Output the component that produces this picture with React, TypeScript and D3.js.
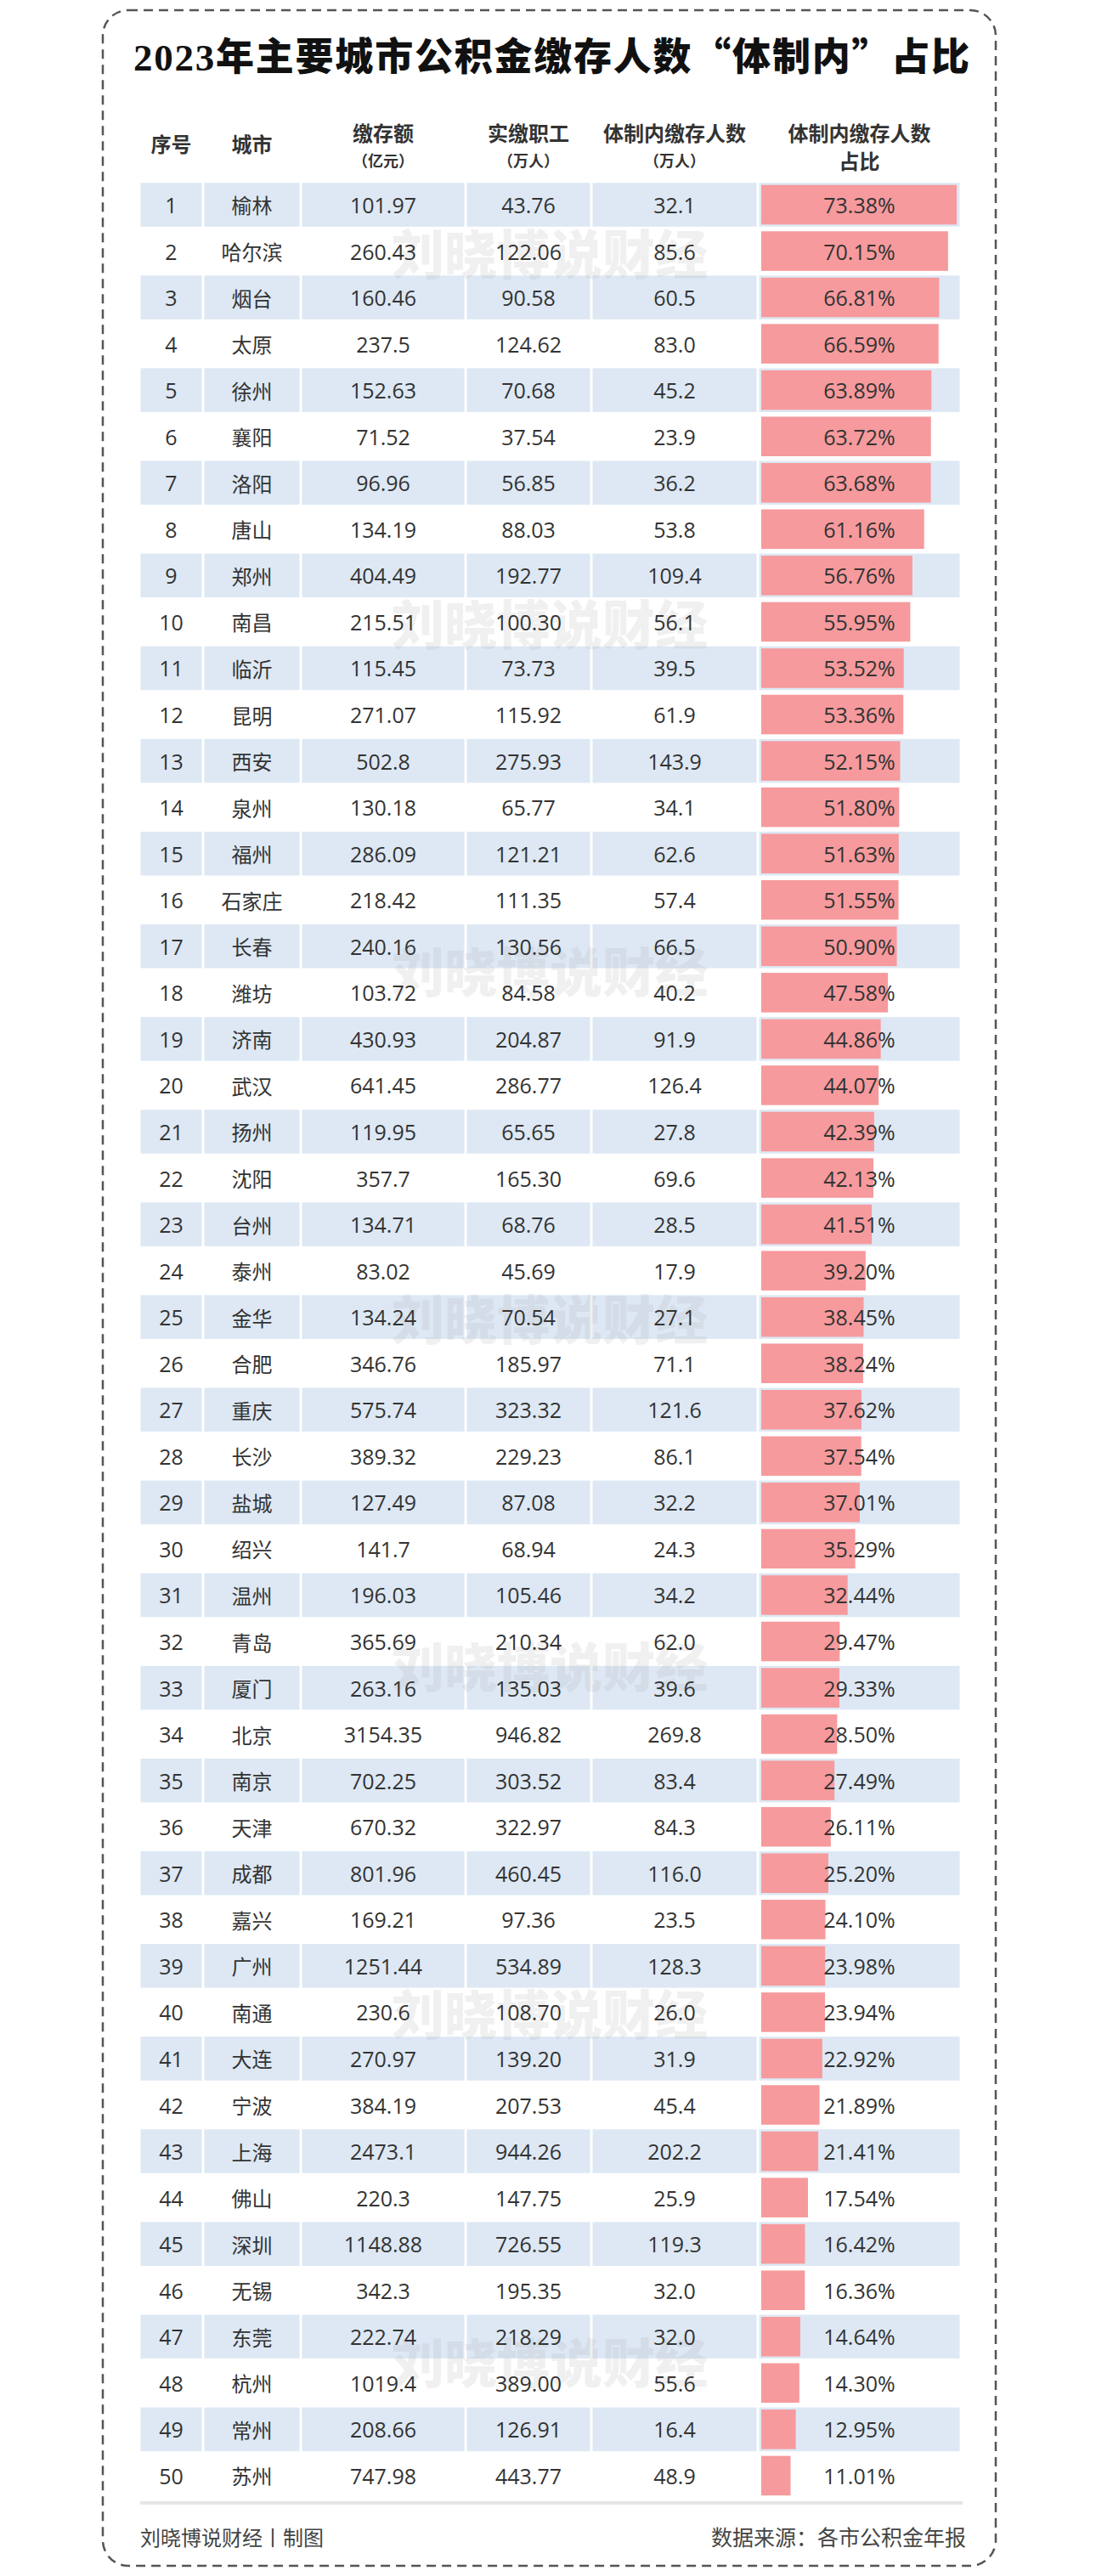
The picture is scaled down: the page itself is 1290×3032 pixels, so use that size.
import * as d3 from "d3";
import React from "react";

// table rows, in rank order
const cities = [
  "榆林", "哈尔滨", "烟台", "太原", "徐州", "襄阳", "洛阳", "唐山", "郑州", "南昌",
  "临沂", "昆明", "西安", "泉州", "福州", "石家庄", "长春", "潍坊", "济南", "武汉",
  "扬州", "沈阳", "台州", "泰州", "金华", "合肥", "重庆", "长沙", "盐城", "绍兴",
  "温州", "青岛", "厦门", "北京", "南京", "天津", "成都", "嘉兴", "广州", "南通",
  "大连", "宁波", "上海", "佛山", "深圳", "无锡", "东莞", "杭州", "常州", "苏州",
];
// 缴存额 (亿元)
const deposits = [
  "101.97", "260.43", "160.46", "237.5", "152.63", "71.52", "96.96", "134.19", "404.49", "215.51",
  "115.45", "271.07", "502.8", "130.18", "286.09", "218.42", "240.16", "103.72", "430.93", "641.45",
  "119.95", "357.7", "134.71", "83.02", "134.24", "346.76", "575.74", "389.32", "127.49", "141.7",
  "196.03", "365.69", "263.16", "3154.35", "702.25", "670.32", "801.96", "169.21", "1251.44", "230.6",
  "270.97", "384.19", "2473.1", "220.3", "1148.88", "342.3", "222.74", "1019.4", "208.66", "747.98",
];
// 实缴职工 (万人)
const workers = [
  "43.76", "122.06", "90.58", "124.62", "70.68", "37.54", "56.85", "88.03", "192.77", "100.30",
  "73.73", "115.92", "275.93", "65.77", "121.21", "111.35", "130.56", "84.58", "204.87", "286.77",
  "65.65", "165.30", "68.76", "45.69", "70.54", "185.97", "323.32", "229.23", "87.08", "68.94",
  "105.46", "210.34", "135.03", "946.82", "303.52", "322.97", "460.45", "97.36", "534.89", "108.70",
  "139.20", "207.53", "944.26", "147.75", "726.55", "195.35", "218.29", "389.00", "126.91", "443.77",
];
// 体制内缴存人数 (万人)
const insiders = [
  "32.1", "85.6", "60.5", "83.0", "45.2", "23.9", "36.2", "53.8", "109.4", "56.1",
  "39.5", "61.9", "143.9", "34.1", "62.6", "57.4", "66.5", "40.2", "91.9", "126.4",
  "27.8", "69.6", "28.5", "17.9", "27.1", "71.1", "121.6", "86.1", "32.2", "24.3",
  "34.2", "62.0", "39.6", "269.8", "83.4", "84.3", "116.0", "23.5", "128.3", "26.0",
  "31.9", "45.4", "202.2", "25.9", "119.3", "32.0", "32.0", "55.6", "16.4", "48.9",
];
// 体制内缴存人数占比 (%)
const shares = [
  73.38, 70.15, 66.81, 66.59, 63.89, 63.72, 63.68, 61.16, 56.76, 55.95,
  53.52, 53.36, 52.15, 51.80, 51.63, 51.55, 50.90, 47.58, 44.86, 44.07,
  42.39, 42.13, 41.51, 39.20, 38.45, 38.24, 37.62, 37.54, 37.01, 35.29,
  32.44, 29.47, 29.33, 28.50, 27.49, 26.11, 25.20, 24.10, 23.98, 23.94,
  22.92, 21.89, 21.41, 17.54, 16.42, 16.36, 14.64, 14.30, 12.95, 11.01,
];

const headerTop = ["序号", "城市", "缴存额", "实缴职工", "体制内缴存人数", "体制内缴存人数"];
const headerSub = ["", "", "（亿元）", "（万人）", "（万人）", "占比"];
// rows where the faint watermark sits
const watermarkRows = [2, 10, 17.5, 25, 32.5, 40, 47.5];

const titleHead = "2023年主要城市公积金缴存人数";
const titleQuoted = "“体制内”";
const titleTail = "占比";
const watermark = "刘晓博说财经";
const footLeft = "刘晓博说财经丨制图";
const footRight = "数据来源：各市公积金年报";

const W = 1290;
const H = 3032;
const colEdges = [164, 239, 354, 548, 696, 892, 1131];
const sans = "'Open Sans', 'Noto Sans CJK SC', sans-serif";
const cjk = "'Noto Sans CJK SC', sans-serif";
const blue = "#dde8f4";
const pink = "#f69a9d";
const ink = "#333333";

export default function App() {
  const ranks = cities.map((_, i) => i + 1);
  const y = d3.scaleBand<number>().domain(ranks).range([213.7, 2941.2]).padding(0);
  const bw = y.bandwidth();
  const rowMid = d3.scaleLinear().domain([0.5, 50.5]).range([213.7, 2941.2]);
  const barX0 = 896;
  const x = d3.scaleLinear().domain([0, d3.max(shares) as number]).range([0, 230]);
  const colMid = (c: number) => (colEdges[c] + colEdges[c + 1]) / 2;

  return (
    <div style={{ position: "absolute", left: 0, top: 0 }}>
      <svg width={W} height={H} viewBox={`0 0 ${W} ${H}`} style={{ display: "block", background: "#fff" }}>
        <rect x={0} y={0} width={W} height={H} fill="#ffffff" />
        <rect x={121} y={12} width={1051} height={3008} rx={30} ry={30}
          fill="none" stroke="#555" strokeWidth={2.5} strokeDasharray="11 7" />

        <text x={649} y={83} textAnchor="middle" textLength={984} lengthAdjust="spacing"
          fontFamily="'Liberation Serif', 'Noto Sans CJK SC', serif" fontWeight={900}
          fontSize={45} fill="#111">
          {titleHead}
          <tspan fontFamily={cjk}>{titleQuoted}</tspan>
          {titleTail}
        </text>

        {/* header */}
        <g fontFamily={cjk} fontWeight={700} fill={ink} textAnchor="middle">
          {headerTop.map((h, c) =>
            headerSub[c] ? (
              <g key={c}>
                <text x={colMid(c)} y={155} fontSize={24} dominantBaseline="central">{h}</text>
                <text x={colMid(c)} y={188} fontSize={c === 5 ? 24 : 18} dominantBaseline="central">{headerSub[c]}</text>
              </g>
            ) : (
              <text key={c} x={colMid(c)} y={168} fontSize={24} dominantBaseline="central">{h}</text>
            )
          )}
        </g>

        {/* striped background */}
        <g>
          {ranks.filter(r => r % 2 === 1).map(r =>
            colEdges.slice(0, -1).map((e, c) => (
              <rect key={`${r}-${c}`} x={e + 1.5} y={(y(r) as number) + 1.5}
                width={colEdges[c + 1] - e - 3} height={bw - 3} fill={blue} />
            ))
          )}
        </g>

        {/* bars */}
        <g>
          {ranks.map((r, i) => (
            <rect key={r} x={barX0} y={(y(r) as number) + 4} width={x(shares[i])}
              height={bw - 8} fill={pink} />
          ))}
        </g>

        {/* watermark */}
        <g fontFamily={cjk} fontWeight={900} fontSize={62} fill="#a8a8a8" opacity={0.16} textAnchor="middle">
          {watermarkRows.map((r, i) => (
            <text key={i} x={647} y={rowMid(r)} dominantBaseline="central">{watermark}</text>
          ))}
        </g>

        {/* cell text */}
        <g fontFamily={sans} fontSize={25} fill={ink} textAnchor="middle">
          {ranks.map((r, i) => {
            const cy = (y(r) as number) + bw / 2;
            const cells = [String(r), cities[i], deposits[i], workers[i], insiders[i], shares[i].toFixed(2) + "%"];
            return (
              <g key={r}>
                {cells.map((t, c) => (
                  <text key={c} x={colMid(c)} y={cy} dominantBaseline="central"
                    fontSize={c === 1 ? 24 : 25} fontFamily={c === 1 ? cjk : sans}>{t}</text>
                ))}
              </g>
            );
          })}
        </g>

        {/* footer */}
        <line x1={165} x2={1133} y1={2946} y2={2946} stroke="#e6e6e6" strokeWidth={4} />
        <text x={165} y={2985} fontFamily={cjk} fontSize={24} fill="#444" dominantBaseline="central">{footLeft}</text>
        <text x={1137} y={2985} fontFamily={cjk} fontSize={25} fill="#444" textAnchor="end" dominantBaseline="central">{footRight}</text>
      </svg>
    </div>
  );
}
